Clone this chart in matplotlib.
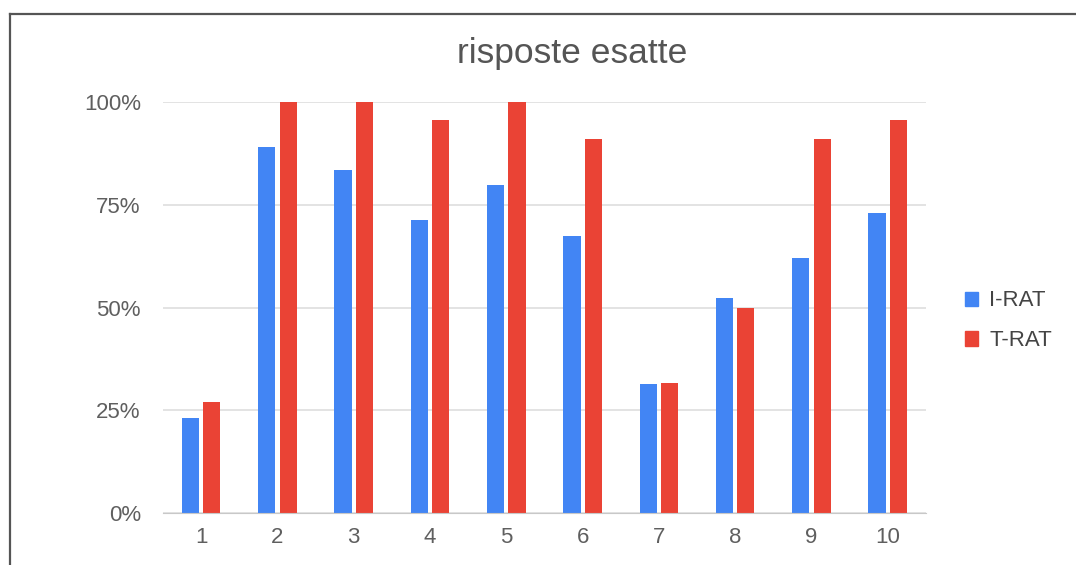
import matplotlib.pyplot as plt
import numpy as np
from matplotlib.patches import Patch
from matplotlib.lines import Line2D

# domande 1..10, quota di risposte esatte
domande = [1, 2, 3, 4, 5, 6, 7, 8, 9, 10]
i_rat = [0.231, 0.891, 0.834, 0.712, 0.797, 0.675, 0.314, 0.523, 0.621, 0.730]
t_rat = [0.271, 1.0, 1.0, 0.955, 1.0, 0.909, 0.316, 0.498, 0.909, 0.955]
y_ticks = [0, 0.25, 0.5, 0.75, 1.0]
y_labels = ['0%', '25%', '50%', '75%', '100%']

plt.rcParams['font.family'] = ['Liberation Sans', 'DejaVu Sans']

fig = plt.figure(figsize=(10.76, 5.65), dpi=100)
ax = fig.add_axes([0.1515, 0.0915, 0.709, 0.728])

x = np.array(domande)
w = 0.225
ax.bar(x - 0.14, i_rat, w, color='#4285F4', zorder=3)
ax.bar(x + 0.14, t_rat, w, color='#EA4335', zorder=3)

ax.set_xlim(0.5, 10.5)
ax.set_ylim(0, 1.0)
ax.set_yticks(y_ticks)
ax.set_yticklabels(y_labels)
ax.set_xticks(x)
ax.grid(axis='y', color='#dedede', linewidth=1.2, zorder=0)
ax.tick_params(length=0, labelsize=16, colors='#5f5f5f', pad=16)
ax.tick_params(axis='x', pad=10)
for s in ['top', 'right', 'left']:
    ax.spines[s].set_visible(False)
ax.spines['bottom'].set_color('#c8c8c8')
ax.spines['bottom'].set_zorder(4)

fig.text(0.532, 0.906, 'risposte esatte', ha='center', va='center',
         fontsize=25.5, color='#555555')

handles = [Patch(color='#4285F4'), Patch(color='#EA4335')]
fig.legend(handles, ['I-RAT', 'T-RAT'], loc='center left',
           bbox_to_anchor=(0.878, 0.432), frameon=False, fontsize=16,
           handlelength=0.6, handleheight=0.6, handletextpad=0.5,
           labelspacing=0.85, labelcolor='#444444')

# cornice
fig.add_artist(Line2D([10 / 1076, 10 / 1076], [0, 1 - 14 / 565],
                      color='#555555', linewidth=1.6))
fig.add_artist(Line2D([10 / 1076, 1], [1 - 14 / 565, 1 - 14 / 565],
                      color='#555555', linewidth=1.6))

fig.savefig('out.png', dpi=100)
